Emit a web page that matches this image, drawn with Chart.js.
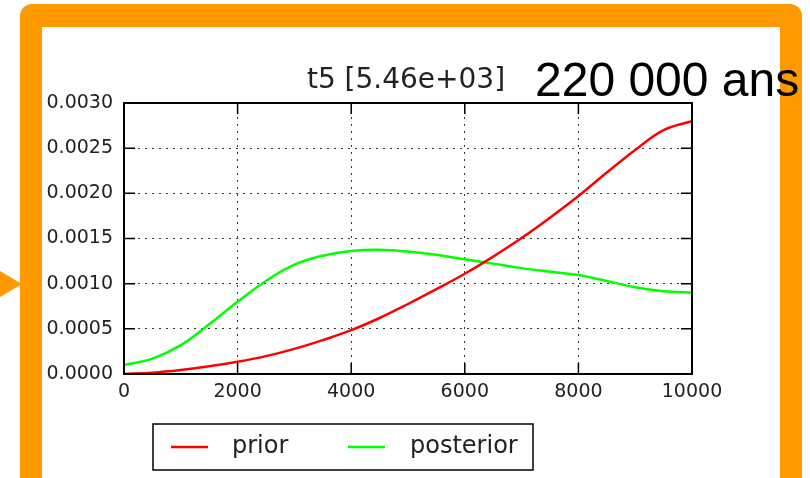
<!DOCTYPE html>
<html>
<head>
<meta charset="utf-8">
<script src="https://cdn.jsdelivr.net/npm/chart.js@4"></script>
<style>
  html, body { margin: 0; padding: 0; background: #fff; overflow: hidden; }
  body { width: 810px; height: 478px; position: relative; }
  #frame { position: absolute; left: 20px; top: 4px; width: 782px; height: 600px; background: #ff9900; border-radius: 12px; }
  #panel { position: absolute; left: 42px; top: 27px; width: 738px; height: 600px; background: #fff; }
  #arrow { position: absolute; left: 0; top: 0; width: 30px; height: 478px; }
  #chart { position: absolute; left: 0; top: 0; }
</style>
</head>
<body>
<div id="frame"></div>
<div id="panel"></div>
<svg id="arrow" width="30" height="478"><polygon points="0,271 22,284 0,297" fill="#ff9900"/></svg>
<canvas id="chart" width="810" height="478"></canvas>
<script>
// values
const xValues = [0, 500, 1000, 1500, 2000, 2500, 3000, 3500, 4000, 4500, 5000,
  5500, 6000, 6500, 7000, 7500, 8000, 8500, 9000, 9500, 10000];
const priorValues = [0.0, 0.000015, 0.000045, 0.000085, 0.000135, 0.000198, 0.000278,
  0.000375, 0.000485, 0.00062, 0.000775, 0.00094, 0.00111, 0.0013, 0.001505,
  0.00173, 0.00197, 0.00223, 0.00248, 0.0027, 0.0028];
const posteriorValues = [0.0001, 0.00017, 0.00032, 0.00055, 0.0008, 0.00103, 0.00121,
  0.00131, 0.001362, 0.001375, 0.001355, 0.00132, 0.00127, 0.001222, 0.001172,
  0.001132, 0.001095, 0.00103, 0.00096, 0.000915, 0.0009];
const seriesLabels = ["prior", "posterior"];
const seriesColors = ["#ff0000", "#00ff00"];
const titleText = "t5 [5.46e+03]";
const sideText = "220 000 ans";

const TEXT = "#222";
const FONT = "'DejaVu Sans', sans-serif";

function toPoints(values) {
  return values.map((v, i) => ({ x: xValues[i], y: v }));
}

// frame, inward ticks, titles and legend drawn on top
const decorations = {
  id: "decorations",
  afterDraw(chart) {
    const ctx = chart.ctx;
    const a = chart.chartArea;
    const xs = chart.scales.x;
    const ys = chart.scales.y;
    ctx.save();

    ctx.strokeStyle = "#000";
    ctx.lineWidth = 1.5;
    ctx.beginPath();
    xs.ticks.forEach(t => {
      const px = xs.getPixelForValue(t.value);
      ctx.moveTo(px, a.bottom); ctx.lineTo(px, a.bottom - 11);
      ctx.moveTo(px, a.top); ctx.lineTo(px, a.top + 11);
    });
    ys.ticks.forEach(t => {
      const py = ys.getPixelForValue(t.value);
      ctx.moveTo(a.left, py); ctx.lineTo(a.left + 11, py);
      ctx.moveTo(a.right, py); ctx.lineTo(a.right - 11, py);
    });
    ctx.stroke();

    ctx.lineWidth = 2;
    ctx.strokeRect(a.left, a.top, a.right - a.left, a.bottom - a.top);

    // axis title
    ctx.fillStyle = TEXT;
    ctx.font = "28px " + FONT;
    ctx.textAlign = "center";
    ctx.textBaseline = "alphabetic";
    ctx.fillText(titleText, (a.left + a.right) / 2 - 2, 88);

    // big annotation
    ctx.fillStyle = "#000";
    ctx.font = "48px 'Liberation Sans', Arial, sans-serif";
    ctx.textAlign = "left";
    ctx.fillText(sideText, 535, 96);

    // legend box
    ctx.lineWidth = 1.5;
    ctx.strokeStyle = "#000";
    ctx.fillStyle = "#fff";
    ctx.fillRect(153, 424, 380, 46);
    ctx.strokeRect(153, 424, 380, 46);
    const sampleX = [171, 348];
    const labelX = [232, 410];
    ctx.font = "24px " + FONT;
    ctx.textBaseline = "middle";
    chart.data.datasets.forEach((ds, i) => {
      ctx.strokeStyle = ds.borderColor;
      ctx.lineWidth = 2.5;
      ctx.beginPath();
      ctx.moveTo(sampleX[i], 447);
      ctx.lineTo(sampleX[i] + 37, 447);
      ctx.stroke();
      ctx.fillStyle = TEXT;
      ctx.fillText(ds.label, labelX[i], 447);
    });
    ctx.restore();
  }
};

new Chart(document.getElementById("chart").getContext("2d"), {
  type: "line",
  data: {
    datasets: [
      {
        label: seriesLabels[0],
        data: toPoints(priorValues),
        borderColor: seriesColors[0],
        borderWidth: 2.5,
        pointRadius: 0,
        tension: 0.4,
        fill: false
      },
      {
        label: seriesLabels[1],
        data: toPoints(posteriorValues),
        borderColor: seriesColors[1],
        borderWidth: 2.5,
        pointRadius: 0,
        tension: 0.4,
        fill: false
      }
    ]
  },
  options: {
    responsive: false,
    animation: false,
    layout: { padding: { left: 0, right: 118, top: 103, bottom: 74 } },
    plugins: {
      legend: { display: false },
      title: { display: false },
      tooltip: { enabled: false }
    },
    scales: {
      x: {
        type: "linear",
        min: 0,
        max: 10000,
        afterFit(scale) { scale.height = 30; },
        ticks: {
          stepSize: 2000,
          padding: 7,
          color: TEXT,
          font: { family: FONT, size: 19 },
          callback: v => String(v)
        },
        grid: { color: "#333", lineWidth: 1, drawTicks: false },
        border: { display: false, dash: [2, 5] }
      },
      y: {
        min: 0,
        max: 0.003,
        afterFit(scale) { scale.width = 124; },
        ticks: {
          stepSize: 0.0005,
          padding: 11,
          color: TEXT,
          font: { family: FONT, size: 19 },
          callback: v => Number(v).toFixed(4)
        },
        grid: { color: "#333", lineWidth: 1, drawTicks: false },
        border: { display: false, dash: [2, 5] }
      }
    }
  },
  plugins: [decorations]
});
</script>
</body>
</html>
